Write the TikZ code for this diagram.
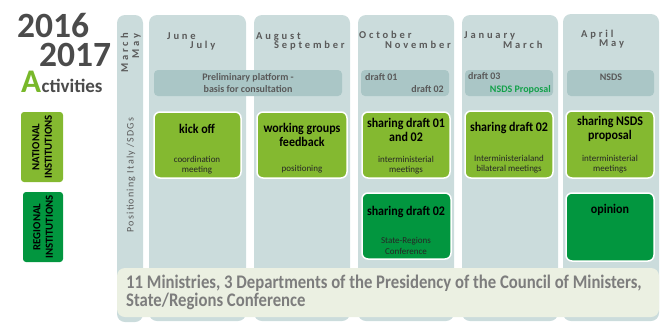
\documentclass[tikz,border=0pt]{standalone}
\usepackage{fontspec}
\setmainfont{Carlito}
\newfontfamily\monfont[LetterSpace=27]{Carlito}
\newfontfamily\posfont[LetterSpace=12]{Carlito}
\definecolor{colbg}{HTML}{CBDCDC}
\definecolor{bandbg}{HTML}{AAC6C6}
\definecolor{lgreen}{HTML}{84B930}
\definecolor{agreen}{HTML}{78B82A}
\definecolor{dgreen}{HTML}{02963F}
\definecolor{bottombg}{HTML}{EBF0E2}
\definecolor{txtgray}{HTML}{5A5A5A}
\definecolor{bottomtxt}{HTML}{7D7D7D}
\definecolor{yeargray}{HTML}{4B4B4B}
\definecolor{nsdsgreen}{HTML}{13A14A}
\tikzset{
  col/.style={fill=colbg, rounded corners=8pt},
  band/.style={fill=bandbg, rounded corners=4pt},
  nbox/.style={fill=lgreen, draw=white, line width=1.5pt, rounded corners=6pt},
  rbox/.style={fill=dgreen, draw=white, line width=1.5pt, rounded corners=6pt},
  ttl/.style={font=\bfseries\fontsize{12}{13}\selectfont, align=center, text=black, inner sep=0pt, yscale=1.1},
  subt/.style={font=\fontsize{9}{10.5}\selectfont, align=center, text=black!85, inner sep=0pt},
  mon/.style={font=\monfont\bfseries\fontsize{10.5}{12}\selectfont, text=txtgray, anchor=base west, inner sep=0pt},
  bandtxt/.style={font=\bfseries\fontsize{10}{11.5}\selectfont, text=txtgray, inner sep=0pt},
  legtxt/.style={font=\bfseries\fontsize{10.8}{12.5}\selectfont, align=center, text=black, inner sep=0pt, rotate=90},
  bottxt/.style={anchor=base west, inner sep=0pt, text=bottomtxt, font=\bfseries\fontsize{16.7}{18}\selectfont, yscale=1.15},
}
\begin{document}
\begin{tikzpicture}[x=1pt,y=-1pt]
\useasboundingbox (0,0) rectangle (668,322);
% year title
\node[anchor=north west, inner sep=0pt, align=left, text=yeargray, font=\bfseries\fontsize{35.5}{29}\selectfont] (years) at (17,13.5) {2016\\\hspace*{22pt}2017};
\node[anchor=base west, inner sep=0pt, text=agreen, font=\bfseries\fontsize{33}{36}\selectfont] (actA) at (21,92) {A};
\node[anchor=base west, inner sep=0pt, text=yeargray, font=\bfseries\fontsize{19}{22}\selectfont] (act) at (actA.base east) {ctivities};
% legend
\fill[lgreen, rounded corners=3pt] (21,112) rectangle (63,182);
\node[legtxt] (nat) at (42,147) {NATIONAL\\INSTITUTIONS};
\fill[dgreen, rounded corners=3pt] (23,192) rectangle (63,262);
\node[legtxt] (reg) at (43,227) {REGIONAL\\INSTITUTIONS};
% columns
\fill[col] (117,15) rectangle (143,322);
\fill[col] (149,15) rectangle (246,321);
\fill[col] (254,15) rectangle (350,321);
\fill[col] (358,15) rectangle (454,321);
\fill[col] (462,15) rectangle (558,321);
\fill[col] (563,14) rectangle (659,321);
% left column labels
\node[anchor=base east, rotate=90, inner sep=0pt, text=txtgray, font=\monfont\bfseries\fontsize{10.5}{12}\selectfont] (mar) at (128,33) {March};
\node[anchor=base east, rotate=90, inner sep=0pt, text=txtgray, font=\monfont\bfseries\fontsize{10.5}{12}\selectfont] (may) at (139,33) {May};
\node[rotate=90, inner sep=0pt, text=txtgray, font=\posfont\fontsize{10}{12}\selectfont] (pos) at (131,175) {Positioning Italy /SDGs};
% months
\node[mon] (jun) at (167,39) {June};
\node[mon] (jul) at (190,48) {July};
\node[mon] (aug) at (256,39) {August};
\node[mon] (sep) at (274,48) {September};
\node[mon] (oct) at (359,38) {October};
\node[mon] (nov) at (385,48) {November};
\node[mon] (jan) at (464,38) {January};
\node[mon] (mrc) at (503,48) {March};
\node[mon] (apr) at (581,37) {April};
\node[mon] (mai) at (599,46) {May};
% bands
\fill[band] (154,70) rectangle (342,96);
\node[bandtxt, align=center] (prel) at (248,83) {Preliminary platform -\\basis for consultation};
\fill[band] (361,70) rectangle (449,96);
\node[bandtxt, anchor=base west] (d01) at (365,80) {draft 01};
\node[bandtxt, anchor=base east] (d02) at (444,92) {draft 02};
\fill[band] (465,70) rectangle (553,96);
\node[bandtxt, anchor=base west] (d03) at (468,79) {draft 03};
\node[bandtxt, anchor=base east, text=nsdsgreen] (nprop) at (551,92) {NSDS Proposal};
\fill[band] (567,70) rectangle (654,96);
\node[bandtxt] (nsds) at (611,77) {NSDS};
% national boxes
\draw[nbox] (154,112) rectangle (241,178);
\node[ttl] (t1) at (197,129) {kick off};
\node[subt] (s1) at (197,165) {coordination\\meeting};
\draw[nbox] (257,112) rectangle (347,178);
\node[ttl] (t2) at (302,135) {working groups\\feedback};
\node[subt] (s2) at (302,169) {positioning};
\draw[nbox] (362,112) rectangle (450,178);
\node[ttl] (t3) at (406,130) {sharing draft 01\\and 02};
\node[subt] (s3) at (406,165) {interministerial\\meetings};
\draw[nbox] (465,111) rectangle (553,178);
\node[ttl] (t4) at (509,128) {sharing draft 02};
\node[subt] (s4) at (509,164) {Interministerialand\\bilateral meetings};
\draw[nbox] (566,111) rectangle (654,178);
\node[ttl] (t5) at (610,129) {sharing NSDS\\proposal};
\node[subt] (s5) at (610,164) {interministerial\\meetings};
% regional boxes
\draw[rbox] (362,193) rectangle (451,259);
\node[ttl] (t6) at (406,212) {sharing draft 02};
\node[subt] (s6) at (406,246) {State-Regions\\Conference};
\draw[rbox] (566,193) rectangle (654,261);
\node[ttl] (t7) at (610,210) {opinion};
% bottom banner
\fill[bottombg, rounded corners=8pt] (117,268) rectangle (659,317);
\node[bottxt] (bot1) at (126,288) {11 Ministries, 3 Departments of the Presidency of the Council of Ministers,};
\node[bottxt] (bot2) at (126,306) {State/Regions Conference};
\end{tikzpicture}
\end{document}
